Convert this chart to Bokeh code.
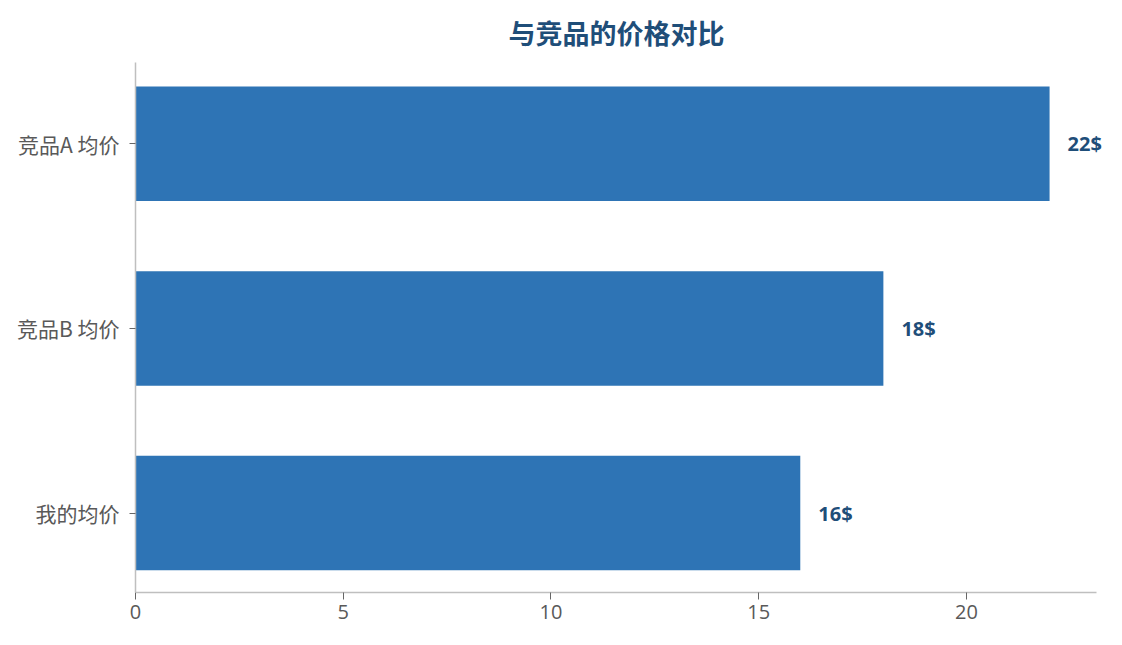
from bokeh.plotting import figure
from bokeh.models import ColumnDataSource, FixedTicker, Range1d, LabelSet
from bokeh.core.properties import value
from bokeh.embed import file_html
from bokeh.resources import INLINE

categories = ["我的均价", "竞品B 均价", "竞品A 均价"]
prices = [16, 18, 22]
labels = ["16$", "18$", "22$"]
x_ticks = [0, 5, 10, 15, 20]

pos = list(range(len(categories)))
src = ColumnDataSource(dict(y=pos, v=prices, lab=labels))

FONT = "Noto Sans CJK SC"
NUMFONT = "Open Sans"

p = figure(width=1106, height=629, output_backend="svg", toolbar_location=None,
           x_range=Range1d(0, 23.37), y_range=Range1d(-0.43, 2.44),
           min_border_left=135, min_border_right=0, min_border_bottom=37, min_border_top=62)

p.hbar(y="y", right="v", left=0, height=0.62, source=src, color="#2E74B5", line_color=None)

p.add_layout(LabelSet(x="v", y="y", text="lab", source=src, x_offset=18,
                      text_baseline="middle", text_align="left",
                      text_font=value(NUMFONT), text_font_size="20px", text_font_style="bold",
                      text_color="#1F4E79"))

p.title.text = "与竞品的价格对比"
p.title.align = "left"
p.title.offset = 373
p.title.text_font = FONT
p.title.text_font_size = "27px"
p.title.text_font_style = "bold"
p.title.text_color = "#1F4E79"
p.title.standoff = 21

p.xgrid.visible = False
p.ygrid.visible = False
p.outline_line_color = None

p.xaxis.ticker = FixedTicker(ticks=x_ticks)
p.xaxis.bounds = (0, 23.13)
p.yaxis.ticker = FixedTicker(ticks=pos)
p.yaxis.major_label_overrides = {i: c for i, c in enumerate(categories)}

for ax in (p.xaxis, p.yaxis):
    ax.axis_line_color = "#BFBFBF"
    ax.axis_line_width = 1.5
    ax.major_tick_line_color = "#666666"
    ax.minor_tick_line_color = None
    ax.major_tick_in = 0
    ax.major_label_text_color = "#595959"
    ax.major_label_text_font_style = "normal"

p.xaxis.major_label_text_font = NUMFONT
p.xaxis.major_label_text_font_size = "20px"
p.yaxis.major_label_text_font = FONT
p.yaxis.major_label_text_font_size = "21px"

p.xaxis.major_tick_out = 7
p.yaxis.major_tick_out = 6
p.xaxis.major_label_standoff = 5
p.yaxis.major_label_standoff = 10

open("out.html", "w").write(file_html(p, INLINE))
